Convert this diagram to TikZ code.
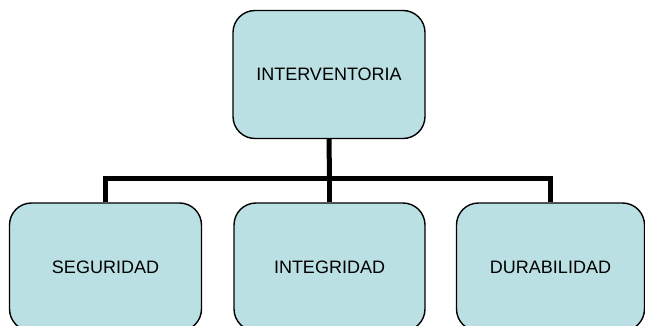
\documentclass[tikz,border=0pt]{standalone}
\usepackage{fontspec}
\setmainfont{Liberation Sans}
\usetikzlibrary{backgrounds}
\definecolor{boxfill}{RGB}{187,224,227}
\begin{document}
\begin{tikzpicture}[x=1pt,y=-1pt,
  orgbox/.style={draw=black,line width=1.4pt,fill=boxfill,rounded corners=22pt,
    minimum width=#1,minimum height=128pt,inner sep=0pt,
    font=\fontsize{18}{20}\selectfont},
  orgbox/.default=192pt,
  link/.style={line width=5pt,black,line join=miter}]
\useasboundingbox (0,0) rectangle (645,326);
\clip (0,0) rectangle (645,326);
\node[orgbox] (top) at (329,74.5) {INTERVENTORIA};
\node[orgbox] (seg) at (105.5,267) {SEGURIDAD};
\node[orgbox=191pt] (int) at (329.5,267) {INTEGRIDAD};
\node[orgbox=188pt] (dur) at (550.5,267) {DURABILIDAD};
\coordinate (j) at (329.5,178);
\begin{scope}[on background layer]
\draw[link] (top.south) -- (j);
\draw[link] (seg.north) |- (j) -| (dur.north);
\draw[link] (j) -- (int.north);
\end{scope}
\end{tikzpicture}
\end{document}
